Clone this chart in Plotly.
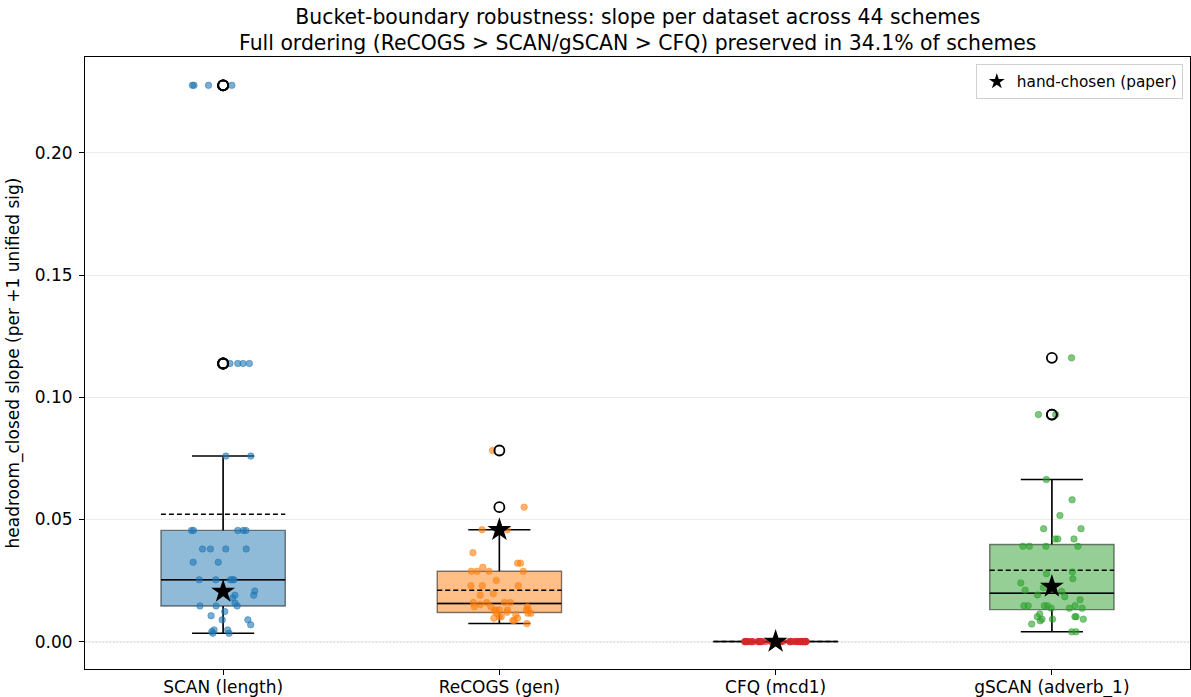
import numpy as np
import plotly.graph_objects as go

# ---- data -----------------------------------------------------------------
datasets = ["SCAN (length)", "ReCOGS (gen)", "CFQ (mcd1)", "gSCAN (adverb_1)"]
colors = ["#1f77b4", "#ff7f0e", "#d62728", "#2ca02c"]

# headroom_closed slope per bucket-boundary scheme (44 schemes per dataset)
scan_slopes = [
    0.2276, 0.2276, 0.2276, 0.2276,
    0.1138, 0.1138, 0.1138, 0.1138,
    0.0759, 0.0759,
    0.0455, 0.0455, 0.0455, 0.0455, 0.0455,
    0.0379, 0.0379, 0.0379, 0.0379,
    0.0325, 0.0325,
    0.0253, 0.0253, 0.0253, 0.0253, 0.0253,
    0.0207, 0.0190, 0.0190, 0.0178, 0.0157, 0.0146, 0.0146, 0.0146,
    0.0123, 0.0106, 0.0089, 0.0089, 0.0069, 0.0048, 0.0048, 0.0041,
    0.0034, 0.0034,
]
recogs_slopes = [
    0.0782, 0.0550, 0.0458, 0.0458, 0.0364, 0.0321, 0.0321, 0.0304,
    0.0288, 0.0288, 0.0288, 0.0288, 0.0250, 0.0229, 0.0229, 0.0229,
    0.0196, 0.0190, 0.0160, 0.0160, 0.0160, 0.0160, 0.0152,
    0.0143, 0.0143, 0.0143, 0.0130, 0.0130, 0.0130, 0.0130, 0.0130,
    0.0125, 0.0120, 0.0116, 0.0116, 0.0116, 0.0110, 0.0102, 0.0102,
    0.0096, 0.0096, 0.0086, 0.0086, 0.0074,
]
cfq_slopes = [
    0.00002, 0.00001, 0.00000, 0.00003, 0.00001, 0.00000, 0.00002, 0.00001,
    0.00000, 0.00004, 0.00001, 0.00002, 0.00000, 0.00001, 0.00003, 0.00000,
    0.00002, 0.00001, 0.00000, 0.00001, 0.00002, 0.00000, 0.00001, 0.00003,
    0.00001, 0.00000, 0.00002, 0.00001, 0.00000, 0.00001, 0.00002, 0.00000,
    0.00001, 0.00004, 0.00000, 0.00001, 0.00002, 0.00000, 0.00001, 0.00002,
    0.00000, 0.00001, 0.00003, 0.00000,
]
gscan_slopes = [
    0.1161, 0.0929, 0.0929, 0.0663, 0.0580, 0.0516, 0.0462, 0.0462,
    0.0420, 0.0420, 0.0420, 0.0390, 0.0390, 0.0390, 0.0390,
    0.0285, 0.0278, 0.0257, 0.0240, 0.0221, 0.0210, 0.0205, 0.0191,
    0.0184, 0.0171, 0.0147, 0.0147, 0.0147, 0.0147, 0.0147,
    0.0137, 0.0137, 0.0137, 0.0113, 0.0102, 0.0102, 0.0102,
    0.0092, 0.0092, 0.0092, 0.0085, 0.0072, 0.0040, 0.0040,
]
hand_chosen = [0.0205, 0.0457, 0.0000, 0.0225]

all_slopes = [scan_slopes, recogs_slopes, cfq_slopes, gscan_slopes]
n_schemes = 44
preserved_pct = 34.1

# ---- figure ---------------------------------------------------------------
FONT = "DejaVu Sans"
BOX_W = 0.45
CAP_W = BOX_W / 2
rng = np.random.default_rng(0)


def rgba(hex_color, a):
    h = hex_color.lstrip("#")
    r, g, b = int(h[0:2], 16), int(h[2:4], 16), int(h[4:6], 16)
    return f"rgba({r},{g},{b},{a})"


fig = go.Figure()

# dotted reference line at zero
fig.add_hline(y=0, line=dict(color="#777777", width=1.2, dash="1.5px,2px"), layer="below")

stats = []
for i, (vals, col) in enumerate(zip(all_slopes, colors)):
    pos = i + 1
    v = np.asarray(vals, dtype=float)
    q1, med, q3 = np.percentile(v, [25, 50, 75])
    iqr = q3 - q1
    lo_f, hi_f = q1 - 1.5 * iqr, q3 + 1.5 * iqr
    inside = v[(v >= lo_f) & (v <= hi_f)]
    lo_w, hi_w = inside.min(), inside.max()
    out = v[(v < lo_f) | (v > hi_f)]
    stats.append((pos, v, q1, med, q3, lo_w, hi_w, out, v.mean(), col))

    # box body (semi-transparent fill, greyish edge)
    fig.add_trace(go.Box(
        x=[pos], q1=[q1], median=[med], q3=[q3],
        lowerfence=[lo_w], upperfence=[hi_w],
        width=BOX_W, boxpoints=False, whiskerwidth=0,
        fillcolor=rgba(col, 0.5), line=dict(color="rgba(0,0,0,0.5)", width=1.4),
        showlegend=False, hoverinfo="skip",
    ))

for pos, v, q1, med, q3, lo_w, hi_w, out, mean, col in stats:
    # whiskers, caps and median in black
    xs = [pos, pos, None, pos, pos, None,
          pos - CAP_W / 2, pos + CAP_W / 2, None,
          pos - CAP_W / 2, pos + CAP_W / 2, None,
          pos - BOX_W / 2, pos + BOX_W / 2]
    ys = [q1, lo_w, None, q3, hi_w, None,
          lo_w, lo_w, None, hi_w, hi_w, None, med, med]
    fig.add_trace(go.Scatter(x=xs, y=ys, mode="lines",
                             line=dict(color="black", width=1.5),
                             showlegend=False, hoverinfo="skip"))
    # mean (dashed)
    fig.add_trace(go.Scatter(x=[pos - BOX_W / 2, pos + BOX_W / 2], y=[mean, mean],
                             mode="lines",
                             line=dict(color="black", width=1.5, dash="5px,3px"),
                             showlegend=False, hoverinfo="skip"))

for pos, v, q1, med, q3, lo_w, hi_w, out, mean, col in stats:
    jitter = rng.uniform(-0.115, 0.115, len(v))
    fig.add_trace(go.Scatter(
        x=pos + jitter, y=v, mode="markers",
        marker=dict(size=6.5, color=rgba(col, 0.6),
                    line=dict(color=rgba(col, 0.6), width=0.8)),
        showlegend=False, hoverinfo="skip",
    ))

for pos, v, q1, med, q3, lo_w, hi_w, out, mean, col in stats:
    if len(out):
        fig.add_trace(go.Scatter(
            x=[pos] * len(out), y=out, mode="markers",
            marker=dict(symbol="circle-open", size=10, color="black",
                        line=dict(width=1.8, color="black")),
            showlegend=False, hoverinfo="skip",
        ))

fig.add_trace(go.Scatter(
    x=[1, 2, 3, 4], y=hand_chosen, mode="markers", name="hand-chosen (paper)",
    marker=dict(symbol="star", size=18, color="black", line=dict(width=0)),
    showlegend=True,
))

fig.update_layout(
    width=1191, height=697,
    margin=dict(l=85, r=1, t=57, b=28),
    paper_bgcolor="white", plot_bgcolor="white",
    font=dict(family=FONT, size=17, color="black"),
    boxmode="overlay",
    title=dict(
        text=("Bucket-boundary robustness: slope per dataset across "
              f"{n_schemes} schemes<br>Full ordering (ReCOGS > SCAN/gSCAN > CFQ) "
              f"preserved in {preserved_pct}% of schemes"),
        x=0.5355, xanchor="center", y=0.966, yref="container", yanchor="top",
        font=dict(family=FONT, size=20.4, color="black"),
    ),
    legend=dict(
        x=0.9935, y=0.9885, xanchor="right", yanchor="top",
        bgcolor="rgba(255,255,255,0.8)", bordercolor="#d0d0d0", borderwidth=1,
        font=dict(family=FONT, size=15.3), itemsizing="constant",
    ),
    showlegend=True,
)

fig.update_xaxes(
    range=[0.5, 4.5], tickvals=[1, 2, 3, 4], ticktext=datasets,
    ticks="outside", ticklen=5, tickwidth=1, tickcolor="black",
    showgrid=False, zeroline=False, automargin=False,
    showline=True, mirror=True, linecolor="black", linewidth=1,
    tickfont=dict(family=FONT, size=17), ticklabelstandoff=-2,
)
fig.update_yaxes(
    range=[-0.0112, 0.2392], tickvals=[0.0, 0.05, 0.10, 0.15, 0.20],
    tickformat=".2f",
    ticks="outside", ticklen=5, tickwidth=1, tickcolor="black",
    showgrid=True, gridcolor="#ebebeb", gridwidth=1, zeroline=False,
    automargin=False,
    showline=True, mirror=True, linecolor="black", linewidth=1,
    tickfont=dict(family=FONT, size=17), ticklabelstandoff=3,
    title=dict(text="headroom_closed slope (per +1 unified sig)",
               font=dict(family=FONT, size=17), standoff=10),
)

fig.write_html("out.html")
